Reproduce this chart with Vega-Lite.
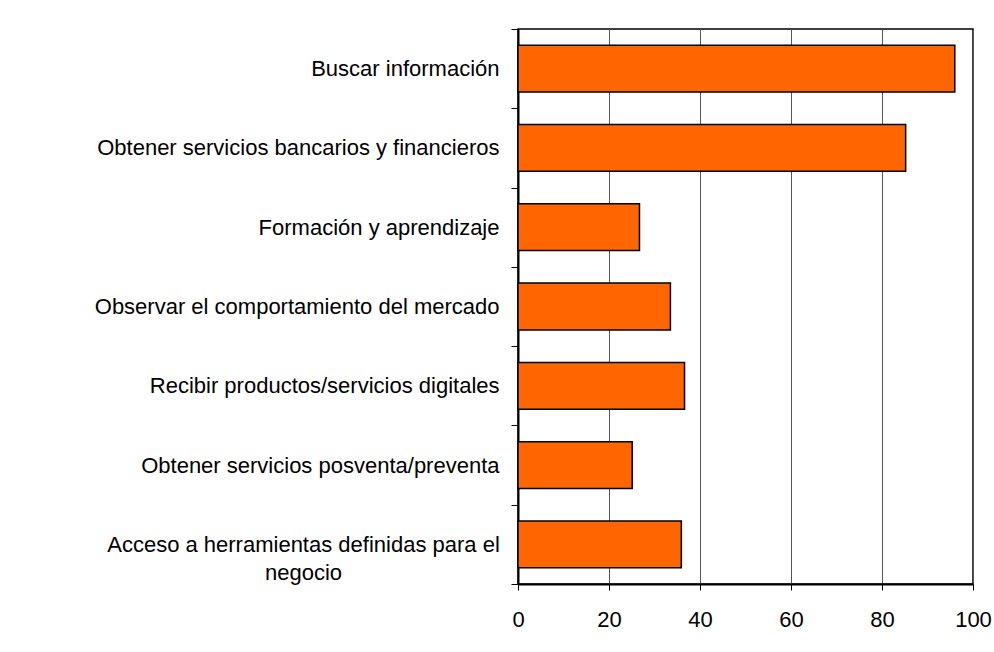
{
  "$schema": "https://vega.github.io/schema/vega-lite/v6.json",
  "autosize": "none",
  "width": 455,
  "height": 555,
  "padding": {"left": 518, "top": 29, "right": 21, "bottom": 68},
  "background": "white",
  "data": {
    "values": [
      {"actividad": "Buscar información", "valor": 96.0},
      {"actividad": "Obtener servicios bancarios y financieros", "valor": 85.2},
      {"actividad": "Formación y aprendizaje", "valor": 26.7},
      {"actividad": "Observar el comportamiento del mercado", "valor": 33.5},
      {"actividad": "Recibir productos/servicios digitales", "valor": 36.6},
      {"actividad": "Obtener servicios posventa/preventa", "valor": 25.1},
      {"actividad": "Acceso a herramientas definidas para el negocio", "valor": 35.9}
    ]
  },
  "mark": {"type": "bar", "fill": "#FF6600", "stroke": "#000000", "strokeWidth": 1.5, "height": {"band": 0.59}},
  "encoding": {
    "y": {
      "field": "actividad",
      "type": "nominal",
      "sort": null,
      "scale": {"paddingInner": 0, "paddingOuter": 0},
      "axis": {
        "title": null,
        "tickBand": "extent",
        "tickSize": 7,
        "tickColor": "#000000",
        "tickWidth": 1,
        "domainColor": "#000000",
        "domainWidth": 2,
        "labelPadding": {
          "condition": {"test": "datum.value == 'Acceso a herramientas definidas para el negocio'", "value": 208},
          "value": 12
        },
        "labelAlign": {
          "condition": {"test": "datum.value == 'Acceso a herramientas definidas para el negocio'", "value": "center"},
          "value": "right"
        },
        "labelFont": "Liberation Sans",
        "labelFontSize": 22,
        "labelColor": "#000000",
        "labelLimit": 600,
        "labelLineHeight": 28,
        "labelExpr": "datum.value == 'Acceso a herramientas definidas para el negocio' ? ['Acceso a herramientas definidas para el', 'negocio'] : datum.value",
        "grid": false
      }
    },
    "x": {
      "field": "valor",
      "type": "quantitative",
      "scale": {"domain": [0, 100], "nice": false},
      "axis": {
        "title": null,
        "values": [0, 20, 40, 60, 80, 100],
        "tickSize": 6,
        "tickColor": "#000000",
        "domainColor": "#000000",
        "domainWidth": 2,
        "labelPadding": 19,
        "labelFont": "Liberation Sans",
        "labelFontSize": 22,
        "labelColor": "#000000",
        "labelFlush": false,
        "labelOverlap": false,
        "grid": true,
        "gridColor": "#555555",
        "gridWidth": 1
      }
    }
  },
  "config": {
    "view": {"stroke": "#000000", "strokeWidth": 1.5}
  }
}
